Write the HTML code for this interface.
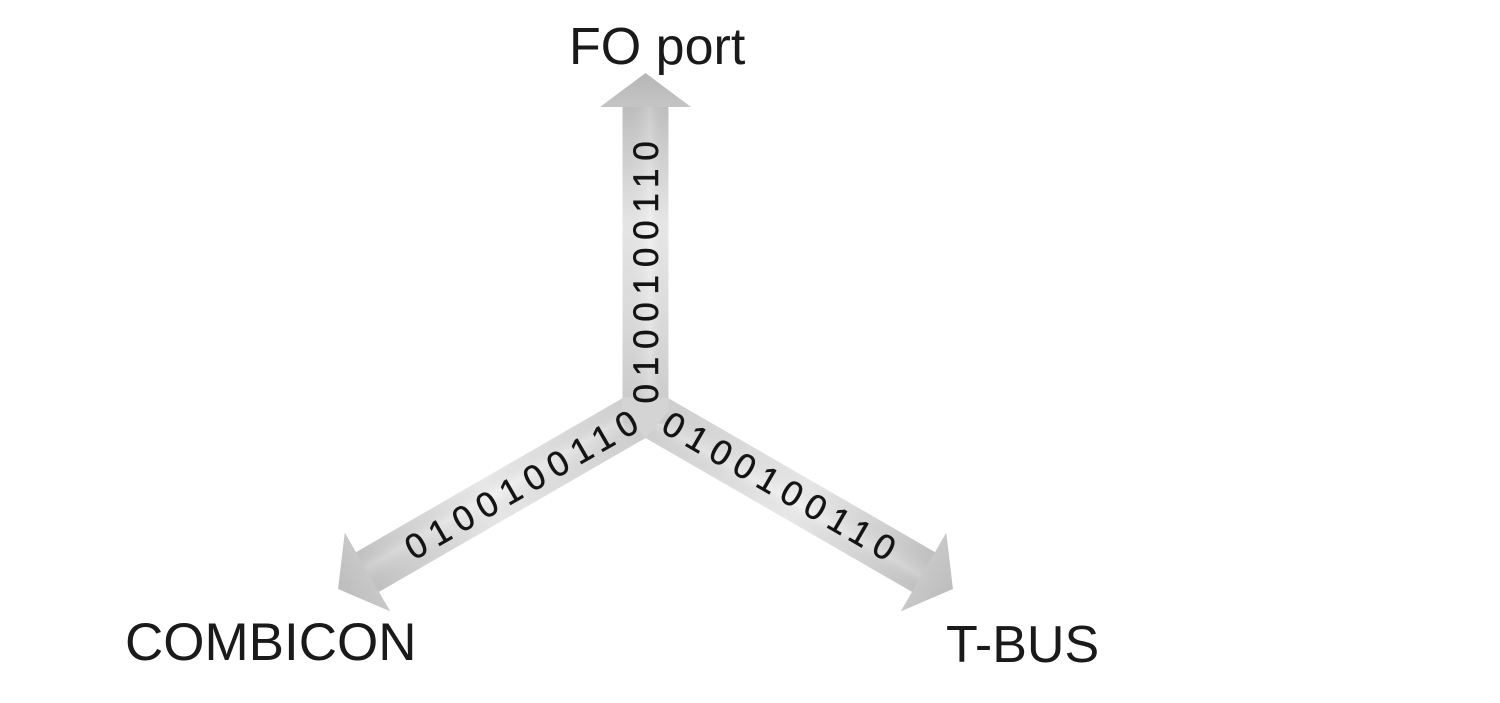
<!DOCTYPE html>
<html>
<head>
<meta charset="utf-8">
<style>
  html, body { margin: 0; padding: 0; background: #ffffff; }
  body { width: 1500px; height: 703px; overflow: hidden; }
  svg { display: block; }
  .lbl { font-family: "Liberation Sans", Arial, sans-serif; fill: #1a1a1a; }
  .bits { font-family: "Liberation Sans", Arial, sans-serif; fill: #141414; stroke: #141414; stroke-width: 0.5px; font-size: 35px; letter-spacing: 7.8px; }
</style>
</head>
<body>
<svg width="1500" height="703" viewBox="0 0 1500 703" xmlns="http://www.w3.org/2000/svg">
  <defs>
    <linearGradient id="gUp" gradientUnits="userSpaceOnUse" x1="0" y1="0" x2="338.5" y2="0">
      <stop offset="0" stop-color="#d2d2d2"/>
      <stop offset="0.3" stop-color="#e4e4e4"/>
      <stop offset="0.55" stop-color="#efefef"/>
      <stop offset="0.8" stop-color="#d2d2d2"/>
      <stop offset="1" stop-color="#b6b6b6"/>
    </linearGradient>
    <linearGradient id="gArm" gradientUnits="userSpaceOnUse" x1="0" y1="0" x2="355" y2="0">
      <stop offset="0" stop-color="#d4d4d4"/>
      <stop offset="0.25" stop-color="#e2e2e2"/>
      <stop offset="0.5" stop-color="#f0f0f0"/>
      <stop offset="0.78" stop-color="#d6d6d6"/>
      <stop offset="1" stop-color="#bdbdbd"/>
    </linearGradient>
    <linearGradient id="gAcross" gradientUnits="userSpaceOnUse" x1="0" y1="-23" x2="0" y2="23">
      <stop offset="0" stop-color="#000" stop-opacity="0.04"/>
      <stop offset="0.6" stop-color="#fff" stop-opacity="0.12"/>
      <stop offset="1" stop-color="#000" stop-opacity="0.03"/>
    </linearGradient>
  </defs>

  <!-- arrows -->
  <g transform="translate(645.5,411.5)">
    <!-- left-down arm -->
    <g transform="rotate(150)">
      <polygon points="-12,-23 321,-23 321,-45.5 355,0 321,45.5 321,23 -12,23" fill="url(#gArm)"/>
      <rect x="-12" y="-23" width="333" height="46" fill="url(#gAcross)"/>
    </g>
    <!-- right-down arm -->
    <g transform="rotate(30)">
      <polygon points="-12,-23 321,-23 321,-45.5 355,0 321,45.5 321,23 -12,23" fill="url(#gArm)"/>
      <rect x="-12" y="-23" width="333" height="46" fill="url(#gAcross)"/>
    </g>
    <!-- up arm -->
    <g transform="rotate(-90)">
      <polygon points="-12,-23 304.5,-23 304.5,-45.5 338.5,0 304.5,45.5 304.5,23 -12,23" fill="url(#gUp)"/>
      <rect x="-12" y="-23" width="316.5" height="46" fill="url(#gAcross)"/>
    </g>
    <!-- center patch -->
    <polygon points="-23,-14 23,-14 23,0 0,26.5 -23,0" fill="#d4d4d4"/>
  </g>

  <!-- bit strings -->
  <text class="bits" transform="translate(645.5,272.5) rotate(-90)" x="-131" y="12.5">0100100110</text>
  <text class="bits" transform="translate(521,484.5) rotate(-30)" x="-131" y="12.5">0100100110</text>
  <text class="bits" transform="translate(780,486) rotate(30)" x="-132" y="12.5">0100100110</text>

  <!-- labels -->
  <text class="lbl" x="569" y="64" font-size="52">FO port</text>
  <text class="lbl" x="125" y="660" font-size="53">COMBICON</text>
  <text class="lbl" x="946" y="662" font-size="52">T-BUS</text>
</svg>
</body>
</html>
